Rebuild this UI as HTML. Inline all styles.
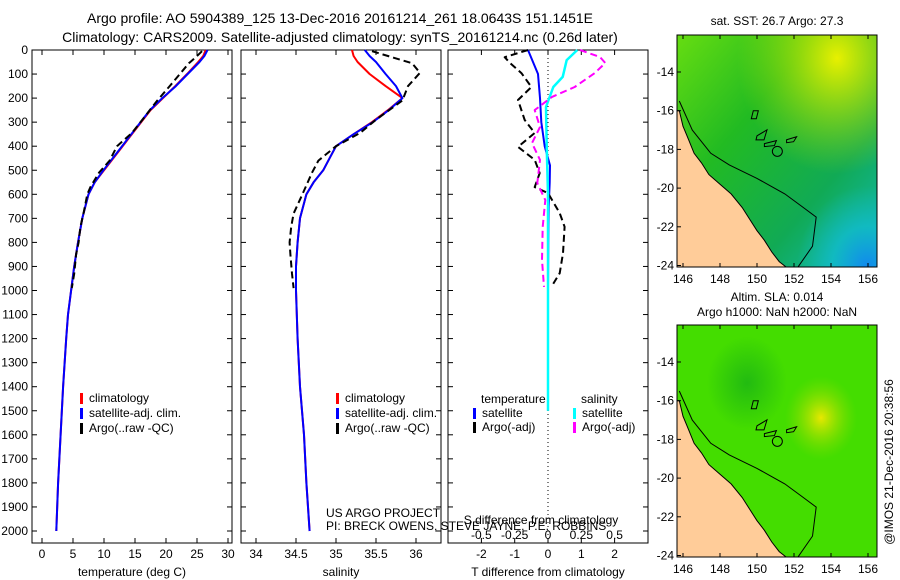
<!DOCTYPE html>
<html><head><meta charset="utf-8"><style>
body{margin:0;background:#fff;}
svg{display:block;font-family:"Liberation Sans",sans-serif;}
</style></head><body>
<svg id="fig" width="900" height="580" viewBox="0 0 900 580">
<defs>
<linearGradient id="sstA" x1="0" y1="0" x2="1" y2="1">
<stop offset="0" stop-color="#66dd11"/><stop offset="0.35" stop-color="#22bb22"/><stop offset="0.7" stop-color="#11aa55"/><stop offset="1" stop-color="#11bbbb"/></linearGradient>
<radialGradient id="sstY" cx="0.8" cy="0.1" r="0.5"><stop offset="0" stop-color="#e8f000" stop-opacity="1"/><stop offset="1" stop-color="#a8e000" stop-opacity="0"/></radialGradient>
<radialGradient id="sstB" cx="0.95" cy="1" r="0.35"><stop offset="0" stop-color="#1188ee"/><stop offset="0.5" stop-color="#11bbcc" stop-opacity="0.8"/><stop offset="1" stop-color="#11bbbb" stop-opacity="0"/></radialGradient>
<radialGradient id="slaY" cx="0.72" cy="0.4" r="0.18"><stop offset="0" stop-color="#e8e800"/><stop offset="1" stop-color="#88dd00" stop-opacity="0"/></radialGradient>
<radialGradient id="slaD" cx="0.35" cy="0.25" r="0.2"><stop offset="0" stop-color="#22bb11"/><stop offset="1" stop-color="#22bb11" stop-opacity="0"/></radialGradient>
<clipPath id="clipTop"><rect x="677" y="35" width="200" height="232"/></clipPath>
<clipPath id="clipBot"><rect x="677" y="325" width="200" height="232"/></clipPath>
</defs>
<g id="layer"></g>
</svg>
<script>
// ---------- data ----------
const depthTicks=[0,100,200,300,400,500,600,700,800,900,1000,1100,1200,1300,1400,1500,1600,1700,1800,1900,2000];
const tempTicks=[0,5,10,15,20,25,30];
const salTicks=[34,34.5,35,35.5,36];
const salTickLabels=["34","34.5","35","35.5","36"];
const tdiffTicks=[-2,-1,0,1,2];
const sdiffTicks=[-0.5,-0.25,0,0.25,0.5];
const sdiffTickLabels=["-0.5","-0.25","0","0.25","0.5"];

const climDepth=[0,25,50,100,150,200,250,300,350,400,450,500,550,600,700,800,900,1000,1100,1200,1400,1600,1800,2000];
const tempClim=[26.4,26.0,25.2,23.4,21.5,19.5,17.5,16,14.5,13,11.5,10,8.5,7.5,6.5,5.8,5.2,4.7,4.2,3.9,3.4,3.0,2.6,2.3];
const tempSat=[26.7,26.2,25.4,23.5,21.6,19.4,17.4,15.9,14.4,12.9,11.4,9.9,8.5,7.5,6.5,5.8,5.2,4.7,4.2,3.9,3.4,3.0,2.6,2.3];
const salClim=[35.2,35.22,35.27,35.42,35.62,35.83,35.65,35.45,35.22,35.0,34.92,34.84,34.72,34.63,34.55,34.52,34.5,34.5,34.51,34.52,34.55,34.6,34.63,34.67];
const salSat=[35.36,35.42,35.5,35.62,35.75,35.83,35.66,35.46,35.22,35.0,34.92,34.84,34.72,34.63,34.55,34.52,34.5,34.5,34.51,34.52,34.55,34.6,34.63,34.67];

const argoDepth=[5,30,55,95,150,210,290,345,400,460,510,570,600,680,735,800,850,930,990];
const tempArgo=[25.8,24.8,23.7,22.4,20.6,18.6,16.2,14.5,12.1,10.9,9.2,7.8,7.3,6.7,6.2,5.9,5.5,5.2,4.8];
const salArgo=[35.45,35.7,35.95,36.05,35.9,35.83,35.5,35.3,35.0,34.78,34.7,34.62,34.58,34.47,34.44,34.42,34.43,34.45,34.47];

const tdSatDepth=[0,50,100,200,300,400,480,550,650,800,1000,1156];
const tdSat=[-0.6,-0.45,-0.3,-0.24,-0.2,-0.1,0.06,0.05,0.02,0.01,0.0,0.0];
const tdArgoDepth=[0,30,54,96,154,208,291,345,403,457,512,570,595,678,735,845,928,985];
const tdArgo=[-0.6,-1.3,-1.14,-0.8,-0.5,-0.9,-0.7,-0.4,-0.9,-0.4,-0.25,-0.4,0,0.35,0.5,0.45,0.35,0.1];
const sdSatDepth=[0,42,112,154,237,400,600,1000,1500];
const sdSat=[0.22,0.14,0.11,0.04,-0.015,-0.01,0.0,0.0,0.0];
const sdArgoDepth=[0,29,54,96,154,195,250,320,387,457,553,624,735,873,985];
const sdArgo=[0.24,0.39,0.43,0.35,0.2,0.03,-0.1,-0.06,-0.12,-0.06,-0.08,-0.02,-0.04,-0.045,-0.03];

const latTicks=[-14,-16,-18,-20,-22,-24];
const lonTicks=[146,148,150,152,154,156];
const coastLon=[145.8,146.0,146.3,146.6,147.0,147.4,148.0,148.6,149.2,149.6,150.0,150.4,150.8,151.2,151.6,145.8];
const coastLat=[-16.0,-16.8,-17.5,-18.2,-18.7,-19.3,-19.8,-20.3,-21.0,-21.6,-22.2,-22.7,-23.3,-23.8,-24.1,-24.1];
const shelfLon=[145.8,146.5,147.5,148.5,150.0,151.5,152.5,153.2,153.0,152.2];
const shelfLat=[-15.5,-17.0,-18.2,-18.8,-19.5,-20.3,-21.0,-21.5,-23.0,-24.1];

// ---------- helpers ----------
const NS="http://www.w3.org/2000/svg";
const layer=document.getElementById('layer');
function mk(tag,attrs,parent){const e=document.createElementNS(NS,tag);for(const k in attrs)e.setAttribute(k,attrs[k]);(parent||layer).appendChild(e);return e;}
function txt(x,y,s,size,anchor,parent){const t=mk('text',{x:x,y:y,'font-size':size||12,'text-anchor':anchor||'start',fill:'#000'},parent);t.textContent=s;return t;}
const yD=d=>50+d*0.2405;
const PB=543;
const xT=v=>42+v*6.2;
const xS=v=>256+(v-34)*80;
const xTD=v=>548+v*33.3;
const xSD=v=>548+v*133.3;

function line(xs,ds,fx,color,w,dash,name){
  const p=xs.map((v,i)=>fx(v).toFixed(1)+','+yD(ds[i]).toFixed(1)).join(' ');
  const el=mk('polyline',{points:p,fill:'none',stroke:color,'stroke-width':w,'stroke-dasharray':dash||'none','stroke-linejoin':'round'});
  
  
  return el;
}
function panel(x0,name){
  const r=mk('rect',{x:x0,y:50,width:200,height:PB-50,fill:'#fff',stroke:'#000','stroke-width':1});
  
  
  depthTicks.forEach(d=>{mk('line',{x1:x0,x2:x0+5,y1:yD(d),y2:yD(d),stroke:'#000'});mk('line',{x1:x0+200,x2:x0+195,y1:yD(d),y2:yD(d),stroke:'#000'});});
}
function xticks(vals,fx,labels,name){
  vals.forEach((v,i)=>{const x=fx(v);mk('line',{x1:x,x2:x,y1:PB,y2:PB-5,stroke:'#000'});mk('line',{x1:x,x2:x,y1:50,y2:55,stroke:'#000'});
    const t=txt(x,558,labels[i],12,'middle');
    
    });
}
function legendBar(x,y,color,label){
  mk('rect',{x:x,y:y-9,width:3,height:11,fill:color});
  const t=txt(x+9,y,label,12);
  
  
}

// titles
let t1=txt(340,23,'Argo profile: AO 5904389_125 13-Dec-2016 20161214_261 18.0643S 151.1451E',14,'middle');


let t2=txt(340,42,'Climatology: CARS2009. Satellite-adjusted climatology: synTS_20161214.nc (0.26d later)',14,'middle');



// panel 1
panel(32,'temperature-panel');
depthTicks.forEach(d=>{const t=txt(28,yD(d)+4,String(d),12,'end');
  
  });
xticks(tempTicks,xT,tempTicks.map(String),'x-tick-label');
let a1=txt(132,576,'temperature (deg C)',12,'middle');


line(tempClim,climDepth,xT,'#ff0000',2,null,'temp-climatology-line');
line(tempSat,climDepth,xT,'#0000ff',2,null,'temp-satellite-line');
line(tempArgo,argoDepth,xT,'#000',2,'7,4','temp-argo-line');
legendBar(80,402,'#ff0000','climatology');
legendBar(80,417,'#0000ff','satellite-adj. clim.');
legendBar(80,432,'#000','Argo(..raw -QC)');

// panel 2
panel(241,'salinity-panel');
xticks(salTicks,xS,salTickLabels,'x-tick-label');
let a2=txt(341,576,'salinity',12,'middle');


line(salClim,climDepth,xS,'#ff0000',2,null,'sal-climatology-line');
line(salSat,climDepth,xS,'#0000ff',2,null,'sal-satellite-line');
line(salArgo,argoDepth,xS,'#000',2,'7,4','sal-argo-line');
legendBar(336,402,'#ff0000','climatology');
legendBar(336,417,'#0000ff','satellite-adj. clim.');
legendBar(336,432,'#000','Argo(..raw -QC)');

// panel 3
panel(448,'difference-panel');
mk('line',{x1:548,x2:548,y1:50,y2:PB,stroke:'#000','stroke-dasharray':'1,3'});
xticks(tdiffTicks,xTD,tdiffTicks.map(String),'x-tick-label');
sdiffTicks.forEach((v,i)=>{const t=txt(xSD(v),539,sdiffTickLabels[i],12,'middle');
  
  });
let a3=txt(548,576,'T difference from climatology',12,'middle');


let a4=txt(541,524,'S difference from climatology',12,'middle');


line(tdSat,tdSatDepth,xTD,'#0000ff',2,null,'tdiff-satellite-line');
line(tdArgo,tdArgoDepth,xTD,'#000',2,'7,4','tdiff-argo-line');
line(sdSat,sdSatDepth,xSD,'#00ffff',2.5,null,'sdiff-satellite-line');
line(sdArgo,sdArgoDepth,xSD,'#ff00ff',2,'7,4','sdiff-argo-line');
txt(481,403,'temperature',12);
legendBar(473,417,'#0000ff','satellite');
legendBar(473,431,'#000','Argo(-adj)');
txt(581,403,'salinity',12);
legendBar(573,417,'#00ffff','satellite');
legendBar(573,431,'#ff00ff','Argo(-adj)');

let c1=txt(326,517,'US ARGO PROJECT',12);


let c2=txt(326,530,'PI: BRECK OWENS, STEVE JAYNE, P.E. ROBBINS',12);



// maps
function map(y0,kind,name){
  const lonX=l=>683+(l-146)*18.5;
  const latY=la=>y0+37+(-14-la)*19.35;
  const g=mk('g',{'clip-path':kind==='sst'?'url(#clipTop)':'url(#clipBot)'});
  
  
  if(kind==='sst'){
    mk('rect',{x:677,y:y0,width:200,height:232,fill:'url(#sstA)'},g);
    mk('rect',{x:677,y:y0,width:200,height:232,fill:'url(#sstY)'},g);
    mk('rect',{x:677,y:y0,width:200,height:232,fill:'url(#sstB)'},g);
  } else {
    mk('rect',{x:677,y:y0,width:200,height:232,fill:'#44dd00'},g);
    mk('rect',{x:677,y:y0,width:200,height:232,fill:'url(#slaD)'},g);
    mk('rect',{x:677,y:y0,width:200,height:232,fill:'url(#slaY)'},g);
  }
  const cp=coastLon.map((l,i)=>lonX(l).toFixed(1)+','+latY(coastLat[i]).toFixed(1)).join(' ')+' '+lonX(145.5)+','+latY(-25)+' '+lonX(145.5)+','+latY(-16);
  mk('polygon',{points:cp,fill:'#ffcc99',stroke:'#000','stroke-width':1},g);
  const sp=shelfLon.map((l,i)=>lonX(l).toFixed(1)+','+latY(shelfLat[i]).toFixed(1)).join(' ');
  mk('polyline',{points:sp,fill:'none',stroke:'#000','stroke-width':1},g);
  mk('circle',{cx:lonX(151.1),cy:latY(-18.1),r:5,fill:'none',stroke:'#000'},g);
  mk('path',{d:`M${lonX(149.8)},${latY(-16)} l5,0 l-2,8 l-5,0 z M${lonX(150)},${latY(-17.3)} l10,-6 l-3,10 l-8,0 z M${lonX(150.4)},${latY(-17.7)} l12,-3 l-2,5 l-10,1 z M${lonX(151.6)},${latY(-17.5)} l10,-3 l-3,5 l-7,1 z`,fill:'none',stroke:'#000'},g);
  mk('rect',{x:677,y:y0,width:200,height:232,fill:'none',stroke:'#000'});
  latTicks.forEach(la=>{const y=latY(la);mk('line',{x1:677,x2:681,y1:y,y2:y,stroke:'#000'});
    const t=txt(674,y+4,String(la),12,'end');
    
    });
  lonTicks.forEach(l=>{const x=lonX(l);mk('line',{x1:x,x2:x,y1:y0+232,y2:y0+228,stroke:'#000'});mk('line',{x1:x,x2:x,y1:y0,y2:y0+4,stroke:'#000'});
    const t=txt(x,y0+248,String(l),12,'middle');
    
    });
}
map(35,'sst','sst-map');
map(325,'sla','sla-map');
let m1=txt(777,25,'sat. SST: 26.7 Argo: 27.3',12,'middle');


let m2=txt(777,301,'Altim. SLA: 0.014',12,'middle');


let m3=txt(777,316,'Argo h1000: NaN h2000: NaN',12,'middle');


let st=txt(0,0,'@IMOS 21-Dec-2016 20:38:56',12,'middle');
st.setAttribute('transform','translate(893,462) rotate(-90)');


</script>
</body></html>
